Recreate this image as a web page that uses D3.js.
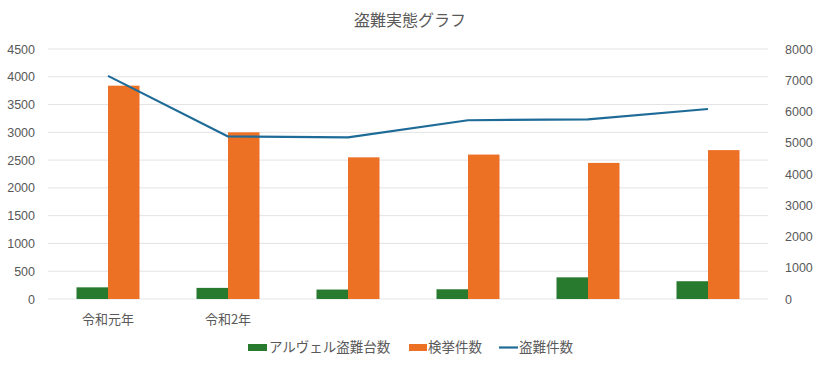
<!DOCTYPE html>
<html><head><meta charset="utf-8">
<script src="https://cdn.jsdelivr.net/npm/d3@7/dist/d3.min.js"></script>
<style>
body{margin:0;background:#fff;}
text{font-family:"Noto Sans CJK JP","Noto Sans",sans-serif;}
</style></head>
<body>
<svg id="chart" width="820" height="366"></svg>
<script>
const categories = ["令和元年","令和2年","令和3年","令和4年","令和5年","令和6年"];
const categoryLabels = ["令和元年","令和2年","","","",""];
const alphardThefts = [210, 200, 170, 175, 390, 320];
const arrests = [3840, 3000, 2550, 2600, 2450, 2680];
const theftCases = [7140, 5200, 5170, 5720, 5750, 6080];
const leftTicks = [0,500,1000,1500,2000,2500,3000,3500,4000,4500];
const rightTicks = [0,1000,2000,3000,4000,5000,6000,7000,8000];
const seriesNames = ["アルヴェル盗難台数","検挙件数","盗難件数"];
const title = "盗難実態グラフ";

const colors = {green:"#287A2F", orange:"#EC7125", blue:"#1F6B98", text:"#595959", grid:"#E3E3E3"};
const svg = d3.select("#chart");
const plotLeft = 48, plotRight = 768, plotTop = 49, plotBottom = 299;

const x = d3.scaleBand().domain(categories).range([plotLeft, plotRight]).paddingInner(0.475).paddingOuter(0.2375);
const xSub = d3.scaleBand().domain([0,1]).range([0, x.bandwidth()]);
const yL = d3.scaleLinear().domain([0,4500]).range([plotBottom, plotTop]);
const yR = d3.scaleLinear().domain([0,8000]).range([plotBottom, plotTop]);

// gridlines
svg.append("g").selectAll("line").data(leftTicks).join("line")
  .attr("x1", plotLeft).attr("x2", plotRight)
  .attr("y1", d=>yL(d)).attr("y2", d=>yL(d))
  .attr("stroke", colors.grid).attr("stroke-width", 1);

// left axis
const axL = svg.append("g").attr("transform", `translate(${plotLeft},0)`)
  .call(d3.axisLeft(yL).tickValues(leftTicks).tickSize(0).tickPadding(13).tickFormat(d3.format("d")));
axL.select(".domain").remove();
axL.selectAll("text").attr("fill", colors.text).style("font-size","12.5px").style("font-family","Liberation Sans, Arial, sans-serif");

// right axis
const axR = svg.append("g").attr("transform", `translate(${plotRight},0)`)
  .call(d3.axisRight(yR).tickValues(rightTicks).tickSize(0).tickPadding(17).tickFormat(d3.format("d")));
axR.select(".domain").remove();
axR.selectAll("text").attr("fill", colors.text).style("font-size","12.5px").style("font-family","Liberation Sans, Arial, sans-serif");

// bars
svg.append("g").selectAll("rect").data(alphardThefts).join("rect")
  .attr("x", (d,i)=>x(categories[i]) + xSub(0))
  .attr("width", xSub.bandwidth())
  .attr("y", d=>yL(d)).attr("height", d=>yL(0)-yL(d))
  .attr("fill", colors.green);
svg.append("g").selectAll("rect").data(arrests).join("rect")
  .attr("x", (d,i)=>x(categories[i]) + xSub(1))
  .attr("width", xSub.bandwidth())
  .attr("y", d=>yL(d)).attr("height", d=>yL(0)-yL(d))
  .attr("fill", colors.orange);

// line
const line = d3.line().x((d,i)=>x(categories[i]) + x.bandwidth()/2).y(d=>yR(d));
svg.append("path").datum(theftCases).attr("d", line)
  .attr("fill","none").attr("stroke", colors.blue).attr("stroke-width", 2.2).attr("stroke-linejoin","round");

// category labels
svg.append("g").selectAll("text").data(categoryLabels).join("text")
  .attr("x", (d,i)=>x(categories[i]) + x.bandwidth()/2)
  .attr("y", 324).attr("text-anchor","middle")
  .attr("fill", colors.text).style("font-size","13px").text(d=>d);

// title
svg.append("text").attr("x", 410).attr("y", 26).attr("text-anchor","middle")
  .attr("fill", "#595959").style("font-size","16px").text(title);

// legend
const lg = svg.append("g");
lg.append("rect").attr("x",248).attr("y",344).attr("width",19).attr("height",7).attr("fill",colors.green);
lg.append("text").attr("x",269).attr("y",352).attr("fill",colors.text).style("font-size","13.5px").text(seriesNames[0]);
lg.append("rect").attr("x",409).attr("y",344).attr("width",18).attr("height",7).attr("fill",colors.orange);
lg.append("text").attr("x",428).attr("y",352).attr("fill",colors.text).style("font-size","13.5px").text(seriesNames[1]);
lg.append("line").attr("x1",499).attr("x2",518).attr("y1",347.5).attr("y2",347.5).attr("stroke",colors.blue).attr("stroke-width",2.2);
lg.append("text").attr("x",519).attr("y",352).attr("fill",colors.text).style("font-size","13.5px").text(seriesNames[2]);
</script>
</body></html>
